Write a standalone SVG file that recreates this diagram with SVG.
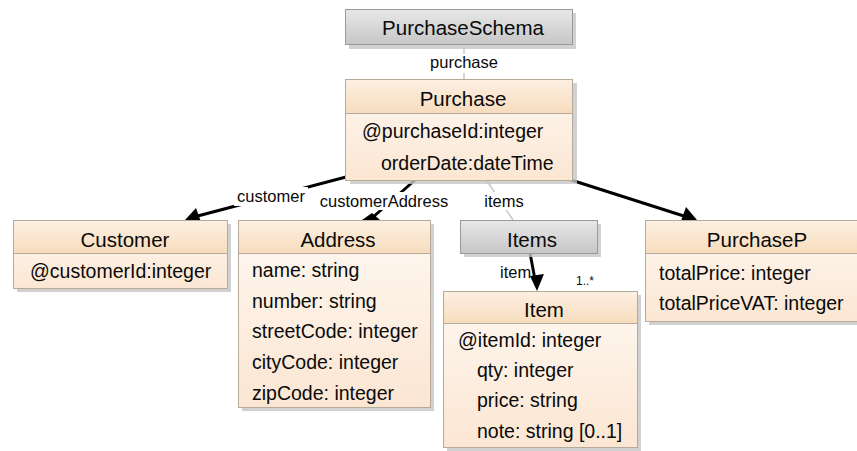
<svg xmlns="http://www.w3.org/2000/svg" width="857" height="451" viewBox="0 0 857 451">
<defs>
<linearGradient id="hdr" x1="0" y1="0" x2="0" y2="1"><stop offset="0" stop-color="#fdf0e2"/><stop offset="1" stop-color="#f7dcbd"/></linearGradient>
<linearGradient id="body" x1="0" y1="0" x2="0" y2="1"><stop offset="0" stop-color="#fef8f2"/><stop offset="1" stop-color="#fbe6d2"/></linearGradient>
<linearGradient id="gray" x1="0" y1="0" x2="0" y2="1"><stop offset="0" stop-color="#e8e8e8"/><stop offset="1" stop-color="#c6c6c6"/></linearGradient>
</defs>
<style>
.sh{fill:#c6c6c6;opacity:0.8}
.hd{fill:url(#hdr);stroke:#b5aa9c;stroke-width:1}
.bd{fill:url(#body);stroke:#b5aa9c;stroke-width:1}
.gb{fill:url(#gray);stroke:#9a9a9a;stroke-width:1}
.t{font-family:"Liberation Sans",Arial,sans-serif;fill:#0a0a0a}
.h{font-size:20.5px;text-anchor:middle}
.a{font-size:19.5px}
.l{font-size:16.5px}
.lb{fill:#fff}
.blk{stroke:#000;stroke-width:3;fill:none}
.gry{stroke:#c8c8c8;stroke-width:1.5;fill:none}
.ah{fill:#000}
</style>
<rect width="857" height="451" fill="#fff"/>
<g id="connectors">
<line class="gry" x1="464" y1="45" x2="464" y2="79"/>
<line class="blk" x1="346" y1="177" x2="190" y2="218"/>
<path class="ah" d="M185,220 L196,208 L201,222 z"/>
<line class="blk" x1="415" y1="180" x2="372" y2="218"/>
<path class="ah" d="M362,220 L372,213 L380,220 z"/>
<line class="gry" x1="487" y1="181" x2="513" y2="220"/>
<line class="blk" x1="568" y1="179" x2="690" y2="218"/>
<path class="ah" d="M697,220 L681,221 L686,207 z"/>
<line class="blk" x1="530" y1="253" x2="536" y2="285"/>
<path class="ah" d="M537,291 L530,276 L544,274 z"/>
</g>
<g id="labels">
<rect class="lb" x="426" y="54" width="76" height="19"/>
<text class="t l" x="464" y="68" text-anchor="middle">purchase</text>
<rect class="lb" x="234" y="187" width="74" height="19"/>
<text class="t l" x="271" y="202" text-anchor="middle">customer</text>
<rect class="lb" x="322" y="192" width="124" height="18"/>
<text class="t l" x="384" y="207" text-anchor="middle">customerAddress</text>
<rect class="lb" x="482" y="192" width="44" height="18"/>
<text class="t l" x="504" y="207" text-anchor="middle">items</text>
<text class="t l" x="500" y="278">item</text>
<text class="t" x="576" y="285" style="font-size:12px">1..*</text>
</g>
<g id="PurchaseSchema">
<rect class="sh" x="349" y="13" width="227" height="36"/>
<rect class="gb" x="345.5" y="9.5" width="227" height="35"/>
<text class="t h" x="463" y="35">PurchaseSchema</text>
</g>
<g id="Purchase">
<rect class="sh" x="350" y="83" width="227" height="101"/>
<rect class="bd" x="345.5" y="79.5" width="227" height="101"/>
<rect class="hd" x="345.5" y="79.5" width="227" height="34"/>
<text class="t h" x="463" y="106">Purchase</text>
<text class="t a" x="362" y="138">@purchaseId:integer</text>
<text class="t a" x="381" y="170">orderDate:dateTime</text>
</g>
<g id="Customer">
<rect class="sh" x="17" y="224" width="214" height="68"/>
<rect class="bd" x="13.5" y="220.5" width="214" height="68"/>
<rect class="hd" x="13.5" y="220.5" width="214" height="33"/>
<text class="t h" x="125" y="247">Customer</text>
<text class="t a" x="30" y="278">@customerId:integer</text>
</g>
<g id="Address">
<rect class="sh" x="242" y="224" width="192" height="187"/>
<rect class="bd" x="238.5" y="220.5" width="192" height="187"/>
<rect class="hd" x="238.5" y="220.5" width="192" height="33"/>
<text class="t h" x="338" y="247">Address</text>
<text class="t a" x="252" y="277">name: string</text>
<text class="t a" x="252" y="308">number: string</text>
<text class="t a" x="252" y="338">streetCode: integer</text>
<text class="t a" x="252" y="369">cityCode: integer</text>
<text class="t a" x="252" y="400">zipCode: integer</text>
</g>
<g id="Items">
<rect class="sh" x="464" y="224" width="137" height="33"/>
<rect class="gb" x="460.5" y="220.5" width="137" height="33"/>
<text class="t h" x="532" y="247">Items</text>
</g>
<g id="Item">
<rect class="sh" x="447" y="295" width="194" height="156"/>
<rect class="bd" x="443.5" y="291.5" width="194" height="156"/>
<rect class="hd" x="443.5" y="291.5" width="194" height="32"/>
<text class="t h" x="544" y="317">Item</text>
<text class="t a" x="458" y="347">@itemId: integer</text>
<text class="t a" x="477" y="377">qty: integer</text>
<text class="t a" x="477" y="407">price: string</text>
<text class="t a" x="477" y="438">note: string [0..1]</text>
</g>
<g id="PurchaseP">
<rect class="sh" x="649" y="224" width="212" height="101"/>
<rect class="bd" x="645.5" y="220.5" width="212" height="101"/>
<rect class="hd" x="645.5" y="220.5" width="212" height="33"/>
<text class="t h" x="757" y="247">PurchaseP</text>
<text class="t a" x="659" y="280">totalPrice: integer</text>
<text class="t a" x="659" y="310">totalPriceVAT: integer</text>
</g>
</svg>
